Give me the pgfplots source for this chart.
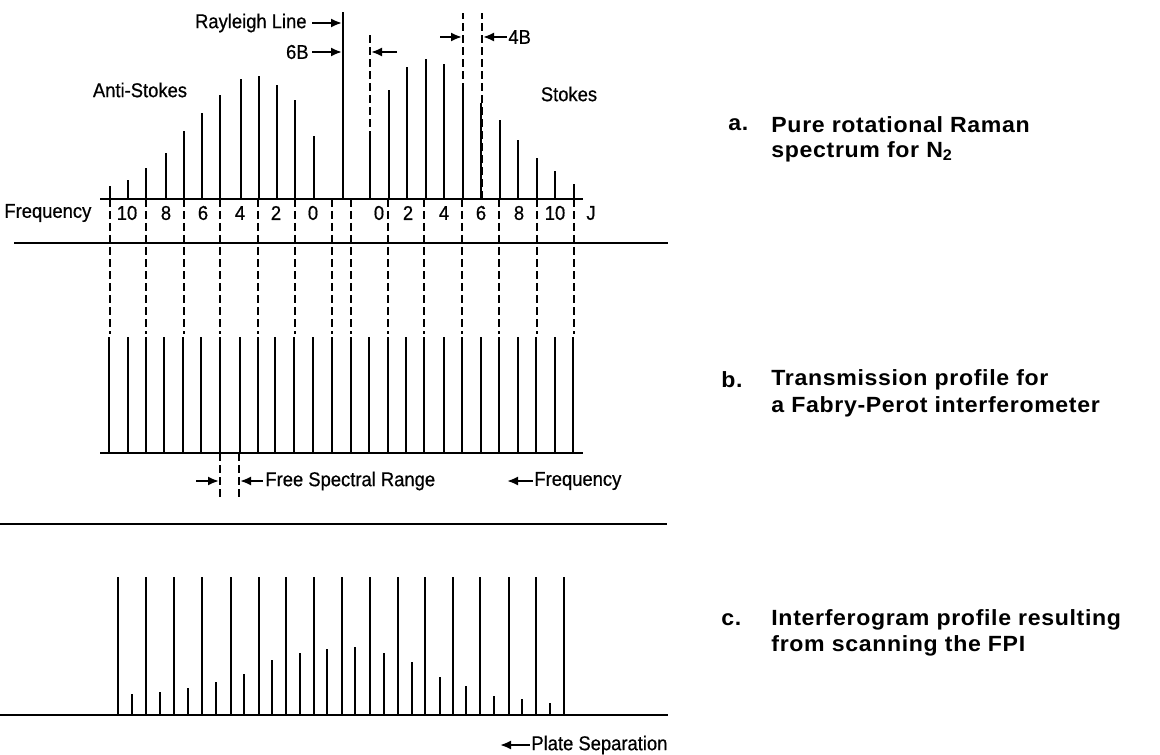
\documentclass[border=0pt]{standalone}
\usepackage{fontspec}
\setmainfont{Liberation Sans}
\newfontfamily\rtfont[FakeStretch=1.05,LetterSpace=3]{Liberation Sans}
\newfontfamily\lbfont[FakeStretch=0.92,FakeBold=0.6]{Liberation Sans}
\usepackage{pgfplots}
\pgfplotsset{compat=1.18}
\usetikzlibrary{arrows.meta}
\tikzset{arr/.style={-{Latex[length=5.5pt,width=4.5pt]}, line width=1pt},
  lab/.style={font=\lbfont\fontsize{10}{11}\selectfont, inner sep=0pt}}
\pgfplotsset{panel/.style={width=580pt, scale only axis, xmin=0, xmax=1160,
  axis lines=none, ticks=none, clip=false, anchor=south west},
  spec/.style={ycomb, mark=none, black, line width=1.4pt},
  dsh/.style={ycomb, mark=none, black, line width=1.3pt, dash pattern=on 4pt off 2pt},
  sep/.style={black, line width=1.4pt, mark=none}}
\begin{document}
\begin{tikzpicture}
\useasboundingbox (0,0) rectangle (580pt,-377pt);
% ---------------- panel a ----------------
\begin{axis}[panel, at={(0pt,-99.5pt)}, height=99.5pt, ymin=0, ymax=199]
\addplot[dsh] coordinates {(370,167) (463,186) (482,186)};
% connectors to panel b
\addplot[dsh] coordinates {(110,-135) (146,-135) (184,-135) (220,-135) (258,-135) (295,-135) (332,-135)
  (351,-135) (388,-135) (424,-135) (462,-135) (499,-135) (537,-135) (574,-135)};
% anti-Stokes
\addplot[spec] coordinates {(110,13) (128,19) (146,31) (166,46) (184,68) (202,86) (220,104)
  (241,120) (259,123) (277,114) (295,99) (314,63)};
% Rayleigh
\addplot[spec] coordinates {(343,187)};
% Stokes
\addplot[spec] coordinates {(370,68) (389,109) (407,132) (426,140) (444,135) (463,116) (481,96)
  (500,79) (518,59) (537,41) (555,28) (574,15)};
\addplot[sep, line width=1.2pt] coordinates {(100,0) (583,0)};
\addplot[sep] coordinates {(14,-44) (668,-44)};
% annotations
\node[lab, anchor=east] at (axis cs:307,176) {Rayleigh Line};
\draw[arr] (axis cs:312,176) -- (axis cs:342,176);
\node[lab, anchor=east] at (axis cs:309,147) {6B};
\draw[arr] (axis cs:312,147) -- (axis cs:342,147);
\draw[arr] (axis cs:397,147) -- (axis cs:371,147);
\draw[arr] (axis cs:440,162) -- (axis cs:462,162);
\draw[arr] (axis cs:507,162) -- (axis cs:483,162);
\node[lab, anchor=west] at (axis cs:508,162) {4B};
\node[lab] at (axis cs:140,109) {Anti-Stokes};
\node[lab] at (axis cs:569,105) {Stokes};
\node[lab, anchor=west] at (axis cs:4,-14) {Frequency};
\node[lab] at (axis cs:127,-14) {10};
\node[lab] at (axis cs:166,-14) {8};
\node[lab] at (axis cs:203,-14) {6};
\node[lab] at (axis cs:240,-14) {4};
\node[lab] at (axis cs:276,-14) {2};
\node[lab] at (axis cs:313,-14) {0};
\node[lab] at (axis cs:379,-14) {0};
\node[lab] at (axis cs:408,-14) {2};
\node[lab] at (axis cs:444,-14) {4};
\node[lab] at (axis cs:481,-14) {6};
\node[lab] at (axis cs:519,-14) {8};
\node[lab] at (axis cs:555,-14) {10};
\node[lab] at (axis cs:591,-14) {J};
\end{axis}
% ---------------- panel b ----------------
\begin{axis}[panel, at={(0pt,-226.5pt)}, height=105pt, ymin=0, ymax=210]
\addplot[spec] coordinates {(109,116) (128,116) (146,116) (164,116) (183,116) (201,116) (220,116)
  (240,116) (258,116) (275,116) (294,116) (313,116) (332,116) (351,116) (369,116) (388,116)
  (406,116) (424,116) (444,116) (462,116) (481,116) (499,116) (518,116) (536,116) (555,116) (573,116)};
\addplot[sep, line width=1.3pt] coordinates {(100,0) (583,0)};
\addplot[dsh, line width=1pt] coordinates {(220,-47) (239,-47)};
\addplot[sep] coordinates {(0,-71) (667,-71)};
\draw[arr] (axis cs:196,-28) -- (axis cs:219,-28);
\draw[arr] (axis cs:263,-28) -- (axis cs:240,-28);
\node[lab, anchor=west] at (axis cs:265,-28) {Free Spectral Range};
\draw[arr] (axis cs:533,-28) -- (axis cs:507,-28);
\node[lab, anchor=west] at (axis cs:534,-28) {Frequency};
\end{axis}
% ---------------- panel c ----------------
\begin{axis}[panel, at={(0pt,-357.5pt)}, height=95pt, ymin=0, ymax=190]
\addplot[spec, line width=1.3pt] coordinates {(118,138) (146,138) (174,138) (202,138) (231,138) (259,138)
  (286,138) (314,138) (342,138) (370,138) (398,138) (425,138) (453,138) (480,138) (509,138)
  (536,138) (564,138)};
\addplot[spec, line width=1.3pt] coordinates {(132,21) (160,23) (188,27) (216,33) (244,41) (272,55)
  (300,62) (327,66) (355,68) (384,62) (412,53) (440,38) (466,29) (494,19) (522,16) (550,12)};
\addplot[sep] coordinates {(0,0) (668,0)};
\draw[arr] (axis cs:530,-30) -- (axis cs:500,-30);
\node[lab, anchor=west] at (axis cs:531,-30) {Plate Separation};
\end{axis}
% ---------------- captions ----------------
\begin{scope}[x=0.5pt, y=-0.5pt, every node/.style={anchor=west, inner sep=0pt,
   font=\rtfont\bfseries\fontsize{11}{13}\selectfont}]
\node at (728,125) {a.};
\node at (771,125) {Pure rotational Raman};
\node at (771,152) {spectrum for N\textsubscript{2}};
\node at (721,380) {b.};
\node at (771,380) {Transmission profile for};
\node at (771,407) {a Fabry-Perot interferometer};
\node at (721,620) {c.};
\node at (771,620) {Interferogram profile resulting};
\node at (771,646) {from scanning the FPI};
\end{scope}
\end{tikzpicture}
\end{document}
